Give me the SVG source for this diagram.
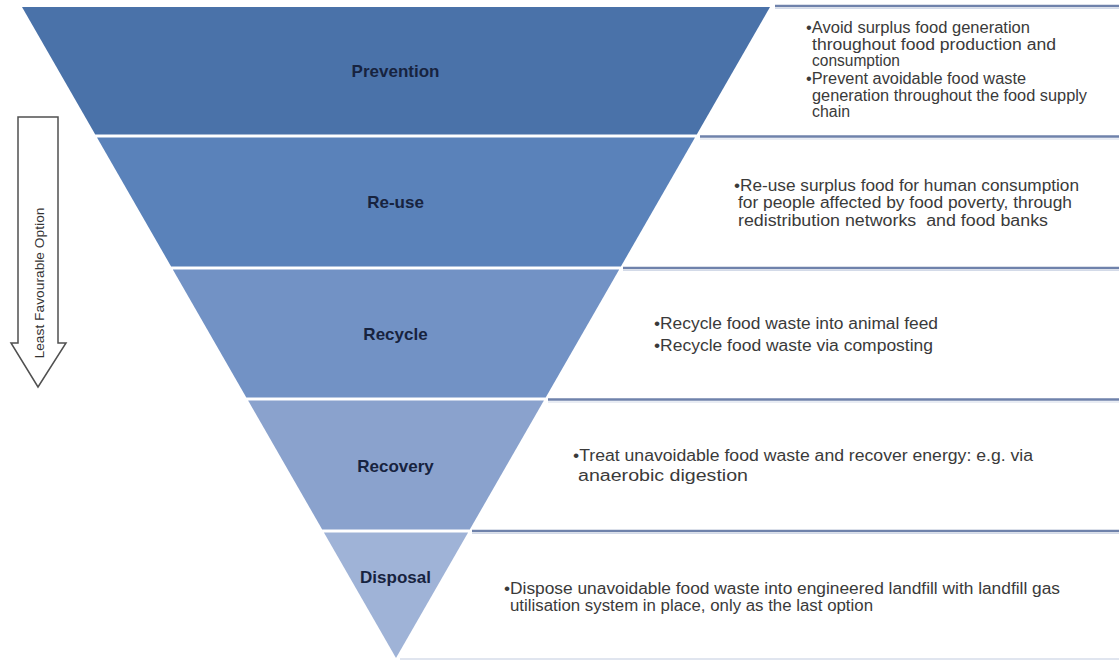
<svg xmlns="http://www.w3.org/2000/svg" width="1119" height="661" viewBox="0 0 1119 661">
<style>
.lbl{font-family:"Liberation Sans",Arial,sans-serif;font-weight:bold;font-size:17px;fill:#17233f;text-anchor:middle}
.bt{font-family:"Liberation Sans",Arial,sans-serif;font-size:16px;fill:#3a3a3a}
.sep{stroke:#6f82ab;stroke-width:2.5;fill:none}
.sh{stroke:#d3dae8;stroke-width:1;fill:none}
</style>
<rect width="1119" height="661" fill="#ffffff"/>
<g id="separators">
<line class="sep" x1="775" y1="6" x2="1119" y2="6"/>
<line class="sh" x1="775" y1="8.5" x2="1119" y2="8.5"/>
<line class="sep" x1="700" y1="136.5" x2="1119" y2="136.5"/>
<line class="sh" x1="700" y1="139" x2="1119" y2="139"/>
<line class="sep" x1="623" y1="268" x2="1119" y2="268"/>
<line class="sh" x1="623" y1="270.5" x2="1119" y2="270.5"/>
<line class="sep" x1="548" y1="399.5" x2="1119" y2="399.5"/>
<line class="sh" x1="548" y1="402" x2="1119" y2="402"/>
<line class="sep" x1="472" y1="531" x2="1119" y2="531"/>
<line class="sh" x1="472" y1="533.5" x2="1119" y2="533.5"/>
<line x1="400" y1="659" x2="1119" y2="659" stroke="#d6dcea" stroke-width="1.5"/>
</g>
<g id="prevention">
<polygon points="22,7 770,7 696.75,134.5 95.25,134.5" fill="#4a72a9"/>
<text class="lbl" x="395.5" y="76.5">Prevention</text>
<text class="bt" x="806" y="32.5" textLength="224" lengthAdjust="spacingAndGlyphs">•Avoid surplus food generation</text>
<text class="bt" x="812" y="49.5" textLength="244" lengthAdjust="spacingAndGlyphs">throughout food production and</text>
<text class="bt" x="812" y="66" textLength="88" lengthAdjust="spacingAndGlyphs">consumption</text>
<text class="bt" x="806" y="84" textLength="220" lengthAdjust="spacingAndGlyphs">•Prevent avoidable food waste</text>
<text class="bt" x="812" y="100.5" textLength="275" lengthAdjust="spacingAndGlyphs">generation throughout the food supply</text>
<text class="bt" x="812" y="117" textLength="38" lengthAdjust="spacingAndGlyphs">chain</text>
</g>
<g id="reuse">
<polygon points="97,137.5 695,137.5 620.9,266.5 171.1,266.5" fill="#5a82ba"/>
<text class="lbl" x="395.5" y="208">Re-use</text>
<text class="bt" x="734" y="190.5" textLength="345" lengthAdjust="spacingAndGlyphs">•Re-use surplus food for human consumption</text>
<text class="bt" x="738" y="208" textLength="334" lengthAdjust="spacingAndGlyphs">for people affected by food poverty, through</text>
<text class="bt" x="738" y="225.5" textLength="310" lengthAdjust="spacingAndGlyphs" xml:space="preserve">redistribution networks  and food banks</text>
</g>
<g id="recycle">
<polygon points="172.8,269.5 619.2,269.5 545.7,397.5 246.3,397.5" fill="#7292c5"/>
<text class="lbl" x="395.5" y="340">Recycle</text>
<text class="bt" x="654" y="329" textLength="284" lengthAdjust="spacingAndGlyphs">•Recycle food waste into animal feed</text>
<text class="bt" x="654" y="350.5" textLength="279" lengthAdjust="spacingAndGlyphs">•Recycle food waste via composting</text>
</g>
<g id="recovery">
<polygon points="248.1,400.5 543.9,400.5 469.8,529.5 322.2,529.5" fill="#8aa2cd"/>
<text class="lbl" x="395.5" y="471.5">Recovery</text>
<text class="bt" x="573" y="461" textLength="460" lengthAdjust="spacingAndGlyphs">•Treat unavoidable food waste and recover energy: e.g. via</text>
<text class="bt" x="578" y="480.5" textLength="170" lengthAdjust="spacingAndGlyphs">anaerobic digestion</text>
</g>
<g id="disposal">
<polygon points="323.9,532.5 468.1,532.5 396,658" fill="#9fb3d7"/>
<text class="lbl" x="395.5" y="583">Disposal</text>
<text class="bt" x="504" y="593.5" textLength="556" lengthAdjust="spacingAndGlyphs">•Dispose unavoidable food waste into engineered landfill with landfill gas</text>
<text class="bt" x="510" y="610.5" textLength="363" lengthAdjust="spacingAndGlyphs">utilisation system in place, only as the last option</text>
</g>
<g id="arrow">
<polygon points="18,117 58,117 58,343 66,343 38,387 11,343 18,343" fill="#ffffff" stroke="#505050" stroke-width="1.5" stroke-linejoin="miter"/>
<text x="0" y="0" transform="translate(44,283) rotate(-90)" text-anchor="middle" font-family="Liberation Sans, Arial, sans-serif" font-size="13.5" fill="#333333" textLength="151" lengthAdjust="spacingAndGlyphs">Least Favourable Option</text>
</g>
</svg>
